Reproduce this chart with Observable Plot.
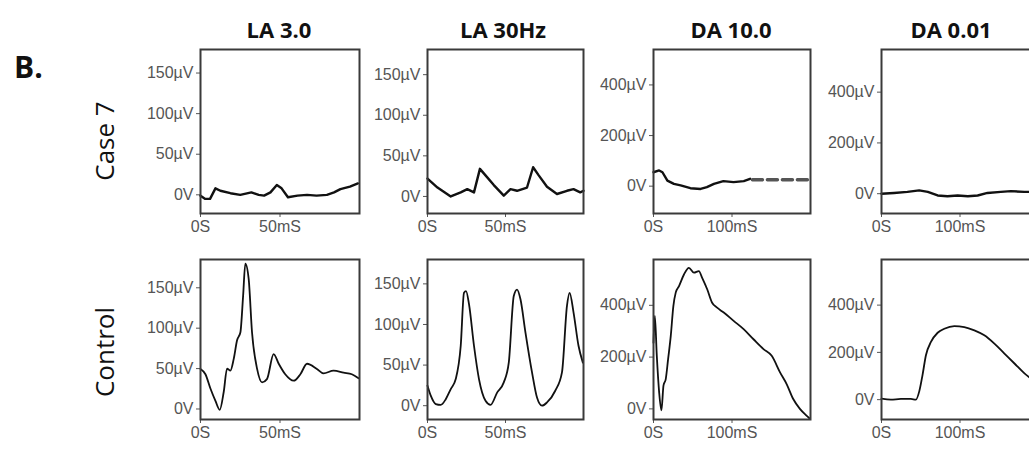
<!DOCTYPE html>
<html><head><meta charset="utf-8">
<script src="https://cdn.jsdelivr.net/npm/d3@7"></script>
<script src="https://cdn.jsdelivr.net/npm/@observablehq/plot@0.6"></script>
<style>
html,body{margin:0;padding:0;background:#fff;overflow:hidden;}
#fig{position:relative;width:1029px;height:449px;overflow:hidden;background:#fff;}
.title{position:absolute;font-family:"Open Sans";font-weight:bold;font-size:22px;line-height:22px;color:#111;transform:translateX(-50%);white-space:nowrap;}
.panelLetter{position:absolute;font-family:"Open Sans";font-weight:bold;font-size:30px;line-height:30px;color:#111;white-space:nowrap;}
.rowlab{position:absolute;font-family:"Open Sans";font-size:26px;line-height:26px;color:#111;white-space:nowrap;transform:translate(-50%,-50%) rotate(-90deg);}
</style></head><body><div id="fig"></div>
<script>
// ---- labels ----
const panelLetter = "B.";
const columnTitles = ["LA 3.0", "LA 30Hz", "DA 10.0", "DA 0.01"];
const rowLabels = ["Case 7", "Control"];
const yTicksLA = [0, 50, 100, 150];
const yTicksDA = [0, 200, 400];
const xTicksLA = [0, 50];
const xTicksDA = [0, 100];

// ---- Case 7 traces (time ms, voltage µV) ----
const case7_la3_t = [0,3,6,9.4,12.5,18.8,25,32,36.6,40,44,48,51,55,61,67,73,79.5,84,88,94,99];
const case7_la3_v = [-1,-5,-5,8,5,2,0,3,0,-1,3,12,8,-3,-1,0,-1,0,3,7,10,14];
const case7_la30_t = [0,6.4,14.9,21.3,25.5,29.8,33.6,37.2,42.5,48.9,53.2,57.4,63.8,67.7,71.3,76.6,83,89.4,93.6,97.9,100];
const case7_la30_v = [22,11,0,5,9,5,34,26,14,1,9,7,11,36,26,12,3,7,9,5,7];
const case7_da10_t = [0,7.2,11.4,17.7,26,34.6,47,60,68,77,89,102,115,123];
const case7_da10_v = [55,62,55,22,9,3,-8,-11,-4,9,20,16,20,29];
const case7_da10_dash_t = [126,196];
const case7_da10_dash_v = [25,25];
const case7_da001_t = [0,16,33,48,59,71.5,84,97,110,122.5,135,152,165,182,189];
const case7_da001_v = [0,3,7,13,7,-7,-10,-7,-10,-7,3,7,10,7,7];

// ---- Control traces ----
const control_la3_t = [0,3.1,6.3,9.4,12.1,14.6,16.7,18.8,20.9,23,25.1,26.8,28.2,30.3,32.4,35.6,38.7,41.8,46,49.2,53.3,58.6,62.8,67,73.2,77.4,83.7,90,95.2,99.4];
const control_la3_v = [49.6,43,25,10,-1,21,50,47.5,62,85,95,140,180,161,95,49.6,33,37,68,56,43,35,43,56,49.6,44,47.5,45,43,38];
const control_la30_t = [0,2.1,5.3,8.5,11.7,14.9,18.1,21.3,23.4,24.7,26.6,29.8,33,37.2,40.4,44.7,48.9,52.1,55.3,57.4,59.6,62.8,67,70.2,73.4,76.6,81.9,86.2,89.4,91.1,93.6,96.8,99.6];
const control_la30_v = [24.6,12.3,2,1,8,20.5,32.8,73.8,139,141,125,73.8,32.8,6,1,16.4,28.7,53,135,143,131,90,41,10,0,4,18.4,41,123,139,115,73.8,53];
const control_da10_t = [0,1.7,4.2,7.2,10.1,12.7,15.6,18.6,22,25.3,28.3,32.5,38.8,45.1,51.5,57.8,62,68.4,74.7,81,89.5,102.1,114.8,127.4,140.1,150.6,161.2,169.6,178,186.5,194.9,199.2];
const control_da10_v = [256,359,205,64,-6,90,115,192,282,397,449,474,519,545,526,532,506,462,410,391,372,340,308,269,231,205,141,96,38,0,-26,-38];
const control_da001_t = [0,11.9,24.7,37.4,43.8,48.1,52.3,56.6,63,71.5,80,92.8,105.5,118.3,131,143.8,156.6,169.4,182.1,189.4];
const control_da001_v = [4,0,3,3,0,35,105,188,244,283,300,311,307,293,272,237,195,153,111,91];

// ---- layout ----
const colLeft = [200, 427, 653, 881];
const colWidth = [159, 156, 157, 157];
const rowTop = [49, 259];
const rowHeight = [164, 160];
const titleX = [279, 503, 731, 951];

const fig = document.getElementById("fig");
const toData = (t, v) => t.map((d, i) => ({t: d, v: v[i]}));

function addPanel(r, c, t, v, yDomain, extra) {
  const isLA = c < 2;
  const mL = 80, mR = 4, mT = 4, mB = 34;
  const marks = [
    Plot.axisY({ticks: isLA ? yTicksLA : yTicksDA, tickSize: 4, tickPadding: 3, label: null,
      tickFormat: d => d === 0 ? "0V" : d + "µV"}),
    Plot.axisX({ticks: isLA ? xTicksLA : xTicksDA, tickSize: 4, tickPadding: 3, label: null,
      tickFormat: d => d === 0 ? "0S" : d + "mS"}),
    Plot.line(toData(t, v), {x: "t", y: "v", stroke: "#111", strokeWidth: r === 0 ? 2.4 : 1.8,
      curve: r === 0 ? "linear" : "monotone-x"}),
    ...(extra || []),
    Plot.frame({stroke: "#3a3a3a", strokeWidth: 2})
  ];
  const p = Plot.plot({
    width: mL + colWidth[c] + mR,
    height: mT + rowHeight[r] + mB,
    marginLeft: mL, marginRight: mR, marginTop: mT, marginBottom: mB,
    x: {domain: isLA ? [0, 100] : [0, 200]},
    y: {domain: yDomain},
    style: {fontFamily: "Liberation Sans", fontSize: "16px", color: "#555", background: "transparent", overflow: "visible"},
    marks
  });
  p.style.position = "absolute";
  p.style.left = (colLeft[c] - mL) + "px";
  p.style.top = (rowTop[r] - mT) + "px";
  fig.appendChild(p);
}

addPanel(0, 0, case7_la3_t, case7_la3_v, [-23, 179]);
addPanel(0, 1, case7_la30_t, case7_la30_v, [-21, 181]);
addPanel(0, 2, case7_da10_t, case7_da10_v, [-108, 540], [
  Plot.line(toData(case7_da10_dash_t, case7_da10_dash_v), {x: "t", y: "v", stroke: "#555", strokeWidth: 3.5, strokeDasharray: "10,5"})
]);
addPanel(0, 3, case7_da001_t, case7_da001_v, [-78, 568]);
addPanel(1, 0, control_la3_t, control_la3_v, [-13, 185]);
addPanel(1, 1, control_la30_t, control_la30_v, [-17, 180]);
addPanel(1, 2, control_da10_t, control_da10_v, [-41, 577]);
addPanel(1, 3, control_da001_t, control_da001_v, [-84, 593]);

// titles
columnTitles.forEach((s, i) => {
  const d = document.createElement("div");
  d.className = "title"; d.textContent = s;
  d.style.left = titleX[i] + "px"; d.style.top = "18px";
  fig.appendChild(d);
});
const bl = document.createElement("div");
bl.className = "panelLetter"; bl.textContent = panelLetter;
bl.style.left = "14px"; bl.style.top = "52px";
fig.appendChild(bl);
const rowCY = [141, 352];
rowLabels.forEach((s, i) => {
  const d = document.createElement("div");
  d.className = "rowlab"; d.textContent = s;
  d.style.left = "104px"; d.style.top = rowCY[i] + "px";
  fig.appendChild(d);
});
</script></body></html>
